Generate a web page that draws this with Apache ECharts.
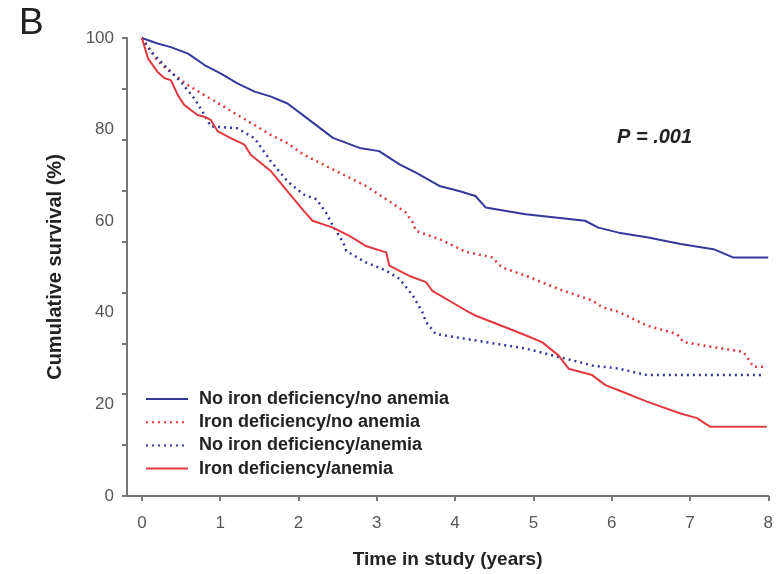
<!DOCTYPE html>
<html>
<head>
<meta charset="utf-8">
<script src="https://cdn.jsdelivr.net/npm/echarts@6/dist/echarts.min.js"></script>
<style>
  html, body { margin: 0; padding: 0; background: #fff; }
  #main { width: 776px; height: 574px; }
</style>
</head>
<body>
<div id="main"></div>
<script>
// group names, same order as the legend
var groups = ['No iron deficiency/no anemia', 'Iron deficiency/no anemia', 'No iron deficiency/anemia', 'Iron deficiency/anemia'];

// years in study / cumulative survival (%)
var noIdNoAnTime = [0, 0.2, 0.37, 0.59, 0.8, 1.01, 1.22, 1.44, 1.65, 1.86, 2.07, 2.44, 2.78, 3.03, 3.29, 3.5, 3.8, 4.05, 4.26, 4.39, 4.9, 5.66, 5.83, 6.09, 6.45, 6.88, 7.3, 7.55, 8.0];
var noIdNoAnSurv = [100, 98.8, 98, 96.6, 94.1, 92.2, 90.1, 88.3, 87.2, 85.7, 83, 78.2, 76, 75.3, 72.4, 70.6, 67.7, 66.6, 65.5, 63, 61.5, 60.1, 58.6, 57.5, 56.5, 55, 53.9, 52.1, 52.1];

var idNoAnTime = [0, 0.2, 0.37, 0.59, 0.8, 1.01, 1.22, 1.44, 1.65, 1.86, 2.07, 2.44, 2.86, 3.12, 3.37, 3.46, 3.5, 3.8, 4.14, 4.47, 4.6, 4.9, 5.32, 5.75, 5.88, 6.09, 6.45, 6.83, 6.92, 7.3, 7.68, 7.77, 7.81, 7.94];
var idNoAnSurv = [100, 95, 92.5, 89.7, 87.5, 85.4, 83.2, 81, 78.8, 77, 74.5, 71.3, 67.7, 64.8, 61.9, 59.7, 57.9, 56.1, 53.3, 52.1, 49.9, 48.1, 45.2, 42.7, 41.2, 40.2, 37.2, 35.4, 33.6, 32.5, 31.5, 29.3, 28.2, 28.2];

var noIdAnTime = [0, 0.12, 0.33, 0.5, 0.67, 0.8, 0.88, 1.22, 1.44, 1.65, 1.86, 2.07, 2.23, 2.35, 2.44, 2.57, 2.61, 2.86, 3.12, 3.29, 3.46, 3.58, 3.63, 3.75, 4.14, 4.9, 5.41, 5.75, 6.09, 6.45, 7.94];
var noIdAnSurv = [100, 97, 93.3, 90.4, 86.8, 83.2, 80.7, 80.3, 78.1, 73, 68.7, 65.8, 64.8, 61.9, 59, 55.4, 53.5, 51, 49.2, 47.4, 43.8, 40.2, 38, 35.4, 34.3, 32.2, 30, 28.5, 27.8, 26.4, 26.4];

var idAnTime = [0, 0.08, 0.2, 0.29, 0.37, 0.46, 0.54, 0.71, 0.8, 0.88, 0.97, 1.14, 1.31, 1.39, 1.65, 1.86, 2.07, 2.18, 2.44, 2.65, 2.86, 3.12, 3.16, 3.41, 3.63, 3.71, 4.14, 4.26, 4.47, 4.9, 5.11, 5.32, 5.45, 5.75, 5.92, 6.09, 6.45, 6.88, 7.09, 7.26, 7.98];
var idAnSurv = [100, 95.5, 92.6, 91.2, 90.8, 87.5, 85.4, 83.2, 82.8, 82.1, 79.6, 78.1, 76.7, 74.5, 70.9, 66.5, 62.2, 60.1, 58.6, 56.8, 54.6, 53.2, 50.3, 48.1, 46.7, 44.8, 40.5, 39.4, 38, 35.1, 33.6, 30.7, 27.8, 26.4, 24.2, 23.1, 20.6, 18, 17, 15.1, 15.1];

var xTicks = [0, 1, 2, 3, 4, 5, 6, 7, 8];
var pText = 'P = .001';

function pairs(ts, vs) {
    var out = [];
    for (var i = 0; i < ts.length; i++) out.push([ts[i], vs[i]]);
    return out;
}

var blue = '#34389a';
var red = '#e0393f';
var font = "'Liberation Sans', Arial, sans-serif";

var chart = echarts.init(document.getElementById('main'));
var option = {
    animation: false,
    backgroundColor: '#fff',
    textStyle: { fontFamily: font },
    grid: { left: 127, right: 6, top: 38, bottom: 76 },
    legend: {
        orient: 'vertical',
        left: 145,
        top: 390,
        padding: 0,
        itemWidth: 42,
        itemHeight: 14,
        itemGap: 5.2,
        itemStyle: { opacity: 0 },
        textStyle: { fontSize: 18, lineHeight: 18, fontWeight: 'bold', color: '#222', fontFamily: font, padding: [0, 0, 0, 6] },
        data: groups
    },
    xAxis: {
        type: 'value',
        min: -0.19,
        max: 8,
        name: 'Time in study (years)',
        nameLocation: 'middle',
        nameGap: 54,
        nameTextStyle: { fontSize: 19, fontWeight: 'bold', color: '#222' },
        axisLine: { show: true, lineStyle: { color: '#777', width: 2 } },
        axisTick: { show: true, length: 5, customValues: xTicks, lineStyle: { color: '#777', width: 2 } },
        axisLabel: { customValues: xTicks, fontSize: 17, color: '#555', margin: 19 },
        splitLine: { show: false }
    },
    yAxis: [{
        type: 'value',
        min: 0,
        max: 100,
        interval: 20,
        name: 'Cumulative survival (%)',
        nameLocation: 'middle',
        nameGap: 62,
        nameTextStyle: { fontSize: 20, fontWeight: 'bold', color: '#222' },
        axisLine: { show: false },
        axisTick: { show: false },
        axisLabel: { fontSize: 17, color: '#555', margin: 13 },
        splitLine: { show: false }
    }, {
        // tick marks only: the figure has nine tick intervals on the y axis
        type: 'value',
        position: 'left',
        min: 0,
        max: 9,
        interval: 1,
        axisLine: { show: true, lineStyle: { color: '#777', width: 2 } },
        axisTick: { show: true, length: 5, lineStyle: { color: '#777', width: 2 } },
        axisLabel: { show: false },
        splitLine: { show: false }
    }],
    graphic: [
        { type: 'text', left: 19, top: 5, style: { text: 'B', fontSize: 37, fill: '#222', fontFamily: font } },
        { type: 'text', left: 617, top: 127, style: { text: pText, fontSize: 20, fontWeight: 'bold', fontStyle: 'italic', fill: '#222', fontFamily: font } }
    ],
    series: [
        { name: groups[0], type: 'line', symbol: 'none', data: pairs(noIdNoAnTime, noIdNoAnSurv), lineStyle: { color: blue, width: 2 }, itemStyle: { color: blue }, z: 4 },
        { name: groups[1], type: 'line', symbol: 'none', data: pairs(idNoAnTime, idNoAnSurv), lineStyle: { color: red, width: 2.5, type: [2, 4] }, itemStyle: { color: red }, z: 3 },
        { name: groups[2], type: 'line', symbol: 'none', data: pairs(noIdAnTime, noIdAnSurv), lineStyle: { color: blue, width: 2.5, type: [2, 4] }, itemStyle: { color: blue }, z: 3 },
        { name: groups[3], type: 'line', symbol: 'none', data: pairs(idAnTime, idAnSurv), lineStyle: { color: red, width: 2 }, itemStyle: { color: red }, z: 4 }
    ]
};
chart.setOption(option);
</script>
</body>
</html>
